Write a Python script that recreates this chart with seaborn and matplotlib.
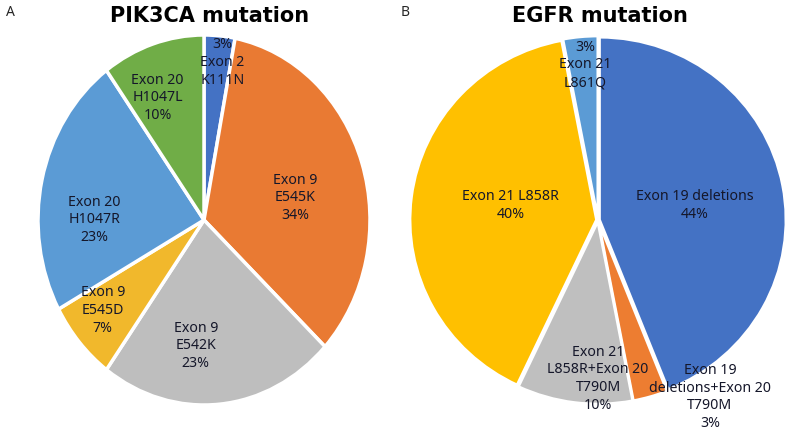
import numpy as np
import seaborn as sns
import matplotlib.pyplot as plt

sns.set_style("white")
plt.rcParams['font.family'] = ['Noto Sans', 'DejaVu Sans']

# PIK3CA mutation (panel A), clockwise from 12 o'clock
pik_labels = ['Exon 2\nK111N', 'Exon 9\nE545K', 'Exon 9\nE542K',
              'Exon 9\nE545D', 'Exon 20\nH1047R', 'Exon 20\nH1047L']
pik_values = [3, 34, 23, 7, 23, 10]

# EGFR mutation (panel B), clockwise from 12 o'clock
egfr_labels = ['Exon 19 deletions', 'Exon 19\ndeletions+Exon 20\nT790M',
               'Exon 21\nL858R+Exon 20\nT790M', 'Exon 21 L858R',
               'Exon 21\nL861Q']
egfr_values = [44, 3, 10, 40, 3]

pik_colors = ['#4472C4', '#E97A33', '#BEBEBE', '#F1B82C', '#5B9BD5', '#70AD47']
egfr_colors = ['#4472C4', '#ED7D31', '#BFBFBF', '#FFC000', '#5B9BD5']

# where the labels sit inside each pie (pie radius = 1), and whether the % goes first
pik_pos = [(0.11, 0.85), (0.55, 0.12), (-0.05, -0.68),
           (-0.61, -0.49), (-0.66, 0.0), (-0.28, 0.66)]
pik_pct_first = [True, False, False, False, False, False]
egfr_pos = [(0.52, 0.08), (0.60, -0.97), (0.0, -0.87),
            (-0.47, 0.08), (-0.07, 0.85)]
egfr_pct_first = [False, False, False, False, True]

fig = plt.figure(figsize=(7.91, 4.43), dpi=100)
W, H = 791, 443


def pie_axes(cx, cy, rx, ry):
    return fig.add_axes([(cx - rx) / W, (H - cy - ry) / H, 2 * rx / W, 2 * ry / H])


def draw(ax, values, labels, colors, pos, pct_first, explode, lw):
    ax.pie(values, colors=colors, startangle=90, counterclock=False,
           explode=[explode] * len(values), radius=1,
           wedgeprops=dict(edgecolor='white', linewidth=lw))
    ax.set_aspect('auto')
    lim = 1 + explode
    ax.set_xlim(-lim, lim)
    ax.set_ylim(-lim, lim)
    for v, lab, (x, y), first in zip(values, labels, pos, pct_first):
        txt = f'{v}%\n{lab}' if first else f'{lab}\n{v}%'
        ax.text(x, y, txt, ha='center', va='center', fontsize=10.2,
                color='#15172a', linespacing=1.25)
    ax.axis('off')


axA = pie_axes(204, 220, 166, 185)
draw(axA, pik_values, pik_labels, pik_colors, pik_pos, pik_pct_first, 0.0, 2.5)

axB = pie_axes(598, 220, 188, 184)
draw(axB, egfr_values, egfr_labels, egfr_colors, egfr_pos, egfr_pct_first, 0.008, 2)

title_font = dict(fontsize=15, fontweight='bold', family=['DejaVu Sans'], color='black')
fig.text(210 / W, 1 - 16 / H, 'PIK3CA mutation', ha='center', va='center', **title_font)
fig.text(600 / W, 1 - 16 / H, 'EGFR mutation', ha='center', va='center', **title_font)
fig.text(10 / W, 1 - 12 / H, 'A', ha='center', va='center', fontsize=10)
fig.text(405 / W, 1 - 12 / H, 'B', ha='center', va='center', fontsize=10)

plt.savefig('out.png', dpi=100)
plt.close()
